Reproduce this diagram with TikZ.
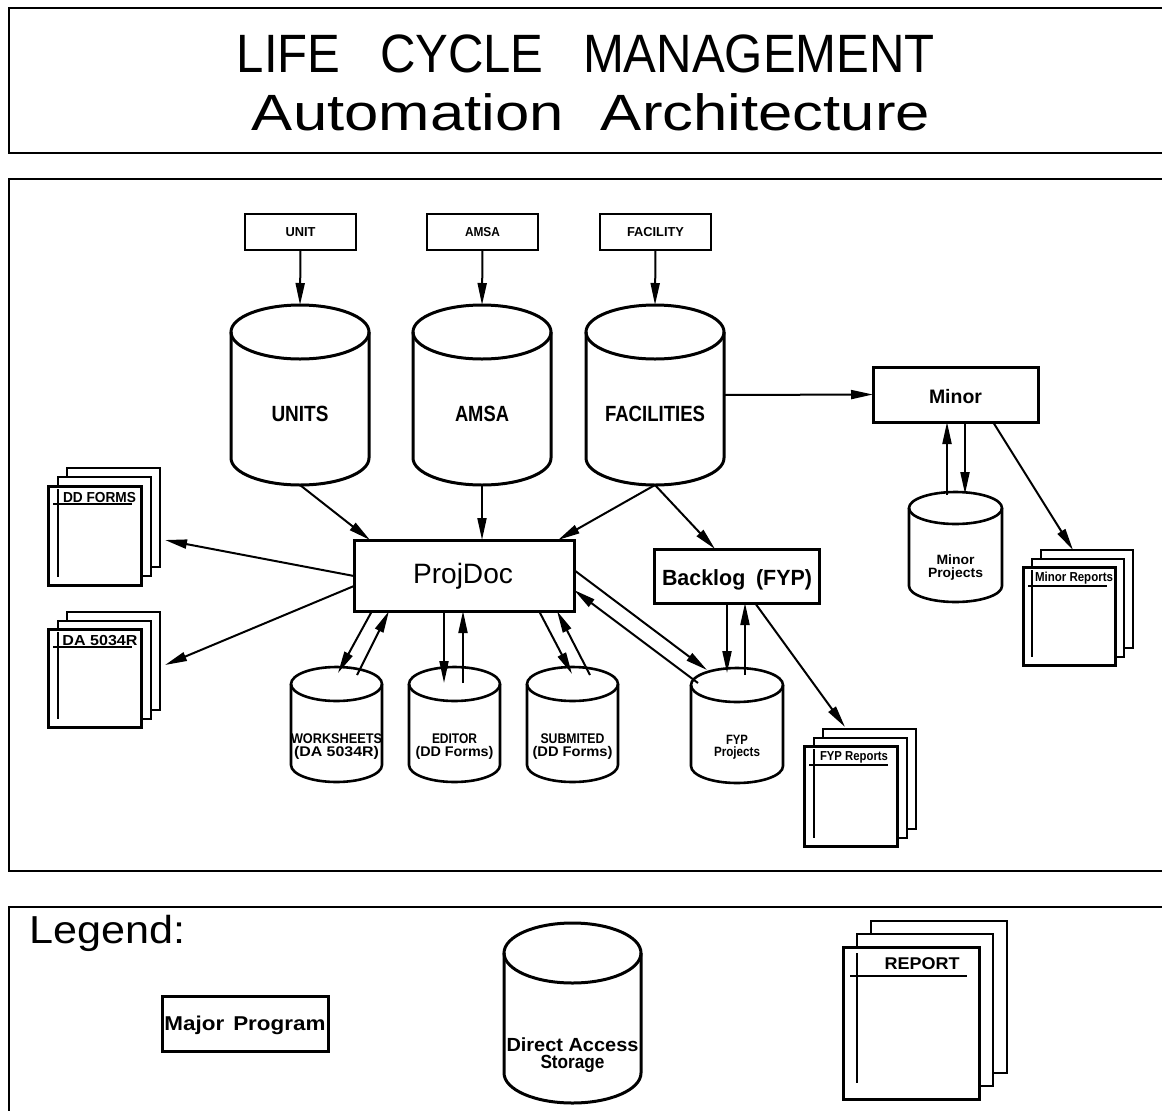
\documentclass[tikz,border=0pt]{standalone}
\usepackage{fontspec}
\setmainfont{Liberation Sans}
\usepackage{graphicx}
\usetikzlibrary{arrows.meta,calc}
% text fitted to a width: #1 width (px), #2 font size, #3 text
\newcommand\fw[3]{\resizebox{#1pt}{\height}{\fontsize{#2pt}{#2pt}\selectfont #3}}
% cylinder: #1 name, #2 line width, #3 cx, #4 top centre y, #5 rx, #6 ry, #7 bottom centre y
\newcommand\cyl[7]{%
  \draw[line width=#2pt] ({#3-#5},#4) -- ({#3-#5},#7)
    .. controls ({#3-#5},{#7+0.552*#6}) and ({#3-0.552*#5},{#7+#6}) .. (#3,{#7+#6})
    .. controls ({#3+0.552*#5},{#7+#6}) and ({#3+#5},{#7+0.552*#6}) .. ({#3+#5},#7)
    -- ({#3+#5},#4);
  \draw[line width=#2pt] (#3,#4) ellipse [x radius=#5, y radius=#6];
  \node[inner sep=0pt, outer sep=0pt, minimum width={2*#5pt}, minimum height={(#7-#4+2*#6)*1pt}] (#1) at (#3,{(#4+#7)/2}) {};
}
% stack of three pages: #1 prefix, #2 front left, #3 front top, #4 w, #5 h, #6 dx, #7 dy (up), #8 front line width
\newcommand\stack[8]{%
  \node[pg, minimum width=#4pt, minimum height=#5pt] (#1c) at ({#2+2*#6+#4/2},{#3-2*#7+#5/2}) {};
  \node[pg, minimum width=#4pt, minimum height=#5pt] (#1b) at ({#2+#6+#4/2},{#3-#7+#5/2}) {};
  \node[pg, line width=#8pt, minimum width=#4pt, minimum height=#5pt] (#1a) at ({#2+#4/2},{#3+#5/2}) {};
}
\begin{document}
\begin{tikzpicture}[x=1pt,y=-1pt,
  frame/.style={line width=2pt},
  box/.style={draw, line width=3pt, inner sep=0pt, outer sep=0pt},
  conn/.style={line width=2pt, -{Triangle[length=22pt,width=9pt]}},
  pg/.style={draw, fill=white, line width=2pt, inner sep=0pt, outer sep=0pt},
  lbl/.style={inner sep=0pt, anchor=base},
  rule/.style={line width=1.6pt}]
\useasboundingbox (0,0) rectangle (1162,1111);

% ---------- frames ----------
\draw[frame] (1170,8) -| (9,153) -- (1170,153);
\draw[frame] (1170,179) -| (9,871) -- (1170,871);
\draw[frame] (1170,907) -| (9,1120);

% ---------- title ----------
\node[lbl] (title1) at (586,72) {\fw{698}{54}{LIFE\hspace{0.8em}CYCLE\hspace{0.8em}MANAGEMENT}};
\node[lbl] (title2) at (591,130) {\fw{678}{51}{Automation\hspace{0.6em}Architecture}};

% ---------- input programs ----------
\node[box, line width=2.5pt, minimum width=111pt, minimum height=36pt] (bUnit) at (300.5,232) {\fw{30}{13}{\bfseries UNIT}};
\node[box, line width=2.5pt, minimum width=111pt, minimum height=36pt] (bAmsa) at (482.5,232) {\fw{35}{13}{\bfseries AMSA}};
\node[box, line width=2.5pt, minimum width=111pt, minimum height=36pt] (bFac) at (655.5,232) {\fw{57}{13}{\bfseries FACILITY}};

% ---------- databases ----------
\cyl{cUnits}{3}{300}{332}{69}{27}{458}
\cyl{cAmsa}{3}{482}{332}{69}{27}{458}
\cyl{cFac}{3}{655}{332}{69}{27}{458}
\node[lbl] (tUnits) at (300,421) {\fw{57}{22}{\bfseries UNITS}};
\node[lbl] (tAmsa) at (482,421) {\fw{54}{22}{\bfseries AMSA}};
\node[lbl] (tFac) at (655,421) {\fw{100}{22}{\bfseries FACILITIES}};

\cyl{cWork}{2.6}{336.5}{684}{45.5}{17}{765}
\cyl{cEdit}{2.6}{454.5}{684}{45.5}{17}{765}
\cyl{cSub}{2.6}{572.5}{684}{45.5}{17}{765}
\cyl{cFyp}{2.6}{737}{685}{46}{17}{766}
\cyl{cMinP}{2.6}{955.5}{508}{46.5}{16}{586}
\node[lbl] (tWork1) at (336.5,743) {\fw{91}{14}{\bfseries WORKSHEETS}};
\node[lbl] (tWork2) at (336.5,756) {\fw{85}{14}{\bfseries (DA 5034R)}};
\node[lbl] (tEdit1) at (454.5,743) {\fw{45}{14}{\bfseries EDITOR}};
\node[lbl] (tEdit2) at (454.5,756) {\fw{78}{14}{\bfseries (DD Forms)}};
\node[lbl] (tSub1) at (572.5,743) {\fw{64}{14}{\bfseries SUBMITED}};
\node[lbl] (tSub2) at (572.5,756) {\fw{80}{14}{\bfseries (DD Forms)}};
\node[lbl] (tFyp1) at (737,744) {\fw{22}{13.5}{\bfseries FYP}};
\node[lbl] (tFyp2) at (737,756) {\fw{46}{13.5}{\bfseries Projects}};
\node[lbl] (tMinP1) at (955.5,564) {\fw{38}{13.5}{\bfseries Minor}};
\node[lbl] (tMinP2) at (955.5,577) {\fw{55}{13.5}{\bfseries Projects}};

% ---------- major programs ----------
\node[box, minimum width=220pt, minimum height=71pt] (pd) at (464,575.5) {};
\node[lbl] (tPd) at (463,583) {\fw{100}{28}{ProjDoc}};
\node[box, minimum width=165pt, minimum height=54pt] (bl) at (736.5,576) {};
\node[lbl] (tBl) at (737,585) {\fw{150}{22}{\bfseries Backlog\hspace{0.5em}(FYP)}};
\node[box, minimum width=165pt, minimum height=55pt] (minor) at (955.5,394.5) {};
\node[lbl] (tMinor) at (955.5,403) {\fw{53}{19.5}{\bfseries Minor}};

% ---------- reports ----------
\stack{dd}{48}{486}{93}{99}{9.5}{9}{3}
\draw[rule] ($(dda.north west)+(5,18)$) -- ($(dda.north east)+(-9,18)$);
\draw[rule] ($(dda.north west)+(10,3)$) -- ($(dda.south west)+(10,-8)$);
\node[lbl] (tDd) at ($(dda.north west)+(51.5,16)$) {\fw{73}{14.5}{\bfseries DD FORMS}};

\stack{da}{48}{629}{93}{98}{9.5}{8.5}{3}
\draw[rule] ($(daa.north west)+(5,18)$) -- ($(daa.north east)+(-9,18)$);
\draw[rule] ($(daa.north west)+(10,3)$) -- ($(daa.south west)+(10,-8)$);
\node[lbl] (tDa) at ($(daa.north west)+(52,16)$) {\fw{75}{14.5}{\bfseries DA 5034R}};

\stack{fr}{804}{746}{93}{100}{9.5}{8.5}{3}
\draw[rule] ($(fra.north west)+(5,19)$) -- ($(fra.north east)+(-9,19)$);
\draw[rule] ($(fra.north west)+(10,3)$) -- ($(fra.south west)+(10,-8)$);
\node[lbl] (tFr) at ($(fra.north west)+(50,14)$) {\fw{68}{13}{\bfseries FYP Reports}};

\stack{mr}{1023}{567}{92}{98}{9}{8.5}{3}
\draw[rule] ($(mra.north west)+(5,19)$) -- ($(mra.north east)+(-8,19)$);
\draw[rule] ($(mra.north west)+(9,3)$) -- ($(mra.south west)+(9,-8)$);
\node[lbl] (tMr) at ($(mra.north west)+(51,14)$) {\fw{78}{13}{\bfseries Minor Reports}};

% ---------- connectors ----------
\draw[conn] (bUnit.south) -- (cUnits.north);
\draw[conn] (bAmsa.south) -- (cAmsa.north);
\draw[conn] (bFac.south) -- (cFac.north);
\draw[conn] (cFac.east) -- (minor.west);
\draw[conn] (cUnits.south) -- ($(pd.north west)+(16,0)$);
\draw[conn] (cAmsa.south) -- ($(pd.north west)+(128,0)$);
\draw[conn] (cFac.south) -- ($(pd.north east)+(-16,0)$);
\draw[conn] (cFac.south) -- ($(bl.north west)+(61,0)$);

\coordinate (ddTip) at (165,540);
\coordinate (daTip) at (165,665);
\draw[conn] ($(pd.west)+(0,0.5)$) -- (ddTip);
\draw[conn] ($(pd.south west)+(0,-25)$) -- (daTip);

\draw[conn] ($(pd.south west)+(18,0)$) -- ($(cWork.north)+(1.5,6)$);
\draw[conn] ($(cWork.north)+(20.5,8)$) -- ($(pd.south west)+(35,0)$);
\draw[conn] ($(pd.south west)+(90,0)$) -- ($(cEdit.north)+(-10.5,16)$);
\draw[conn] ($(cEdit.north)+(8.5,16)$) -- ($(pd.south west)+(109,0)$);
\draw[conn] ($(pd.south west)+(185,0)$) -- ($(cSub.north)+(-0.5,7)$);
\draw[conn] ($(cSub.north)+(17.5,8)$) -- ($(pd.south west)+(203,0)$);
\draw[conn] ($(pd.north east)+(0,30)$) -- ($(cFyp.north)+(-30,2)$);
\draw[conn] ($(cFyp.north)+(-39,15)$) -- ($(pd.north east)+(0,50)$);

\draw[conn] ($(bl.south west)+(73,0)$) -- ($(cFyp.north)+(-10,5)$);
\draw[conn] ($(cFyp.north)+(8,7)$) -- ($(bl.south west)+(91,0)$);
\draw[conn] ($(bl.south west)+(101,0)$) -- ($(frc.north west)+(22,-2)$);

\draw[conn] ($(cMinP.north)+(-8.5,3)$) -- ($(minor.south west)+(74,0)$);
\draw[conn] ($(minor.south west)+(92,0)$) -- ($(cMinP.north)+(9.5,2)$);
\draw[conn] ($(minor.south west)+(120,0)$) -- ($(mrc.north west)+(32,0)$);

% ---------- legend ----------
\node[inner sep=0pt, anchor=base west] (tLegend) at (29,943) {\fw{156}{39}{Legend:}};
\node[box, minimum width=166pt, minimum height=55pt] (lgProg) at (245,1023.5) {};
\node[lbl] (tLgProg) at (245,1030) {\fw{161}{20}{\bfseries Major\hspace{0.4em}Program}};
\cyl{cDas}{3}{572.5}{953}{68.5}{30}{1073}
\node[lbl] (tDas1) at (572.5,1051) {\fw{132}{19}{\bfseries Direct Access}};
\node[lbl] (tDas2) at (572.5,1068) {\fw{64}{19}{\bfseries Storage}};
\stack{rp}{843}{947}{136}{152}{14}{13}{3}
\draw[rule] ($(rpa.north west)+(7,29)$) -- ($(rpa.north east)+(-12,29)$);
\draw[rule] ($(rpa.north west)+(14,6)$) -- ($(rpa.south west)+(14,-16)$);
\node[lbl] (tRp) at ($(rpa.north west)+(79,22)$) {\fw{75}{17}{\bfseries REPORT}};
\end{tikzpicture}
\end{document}
